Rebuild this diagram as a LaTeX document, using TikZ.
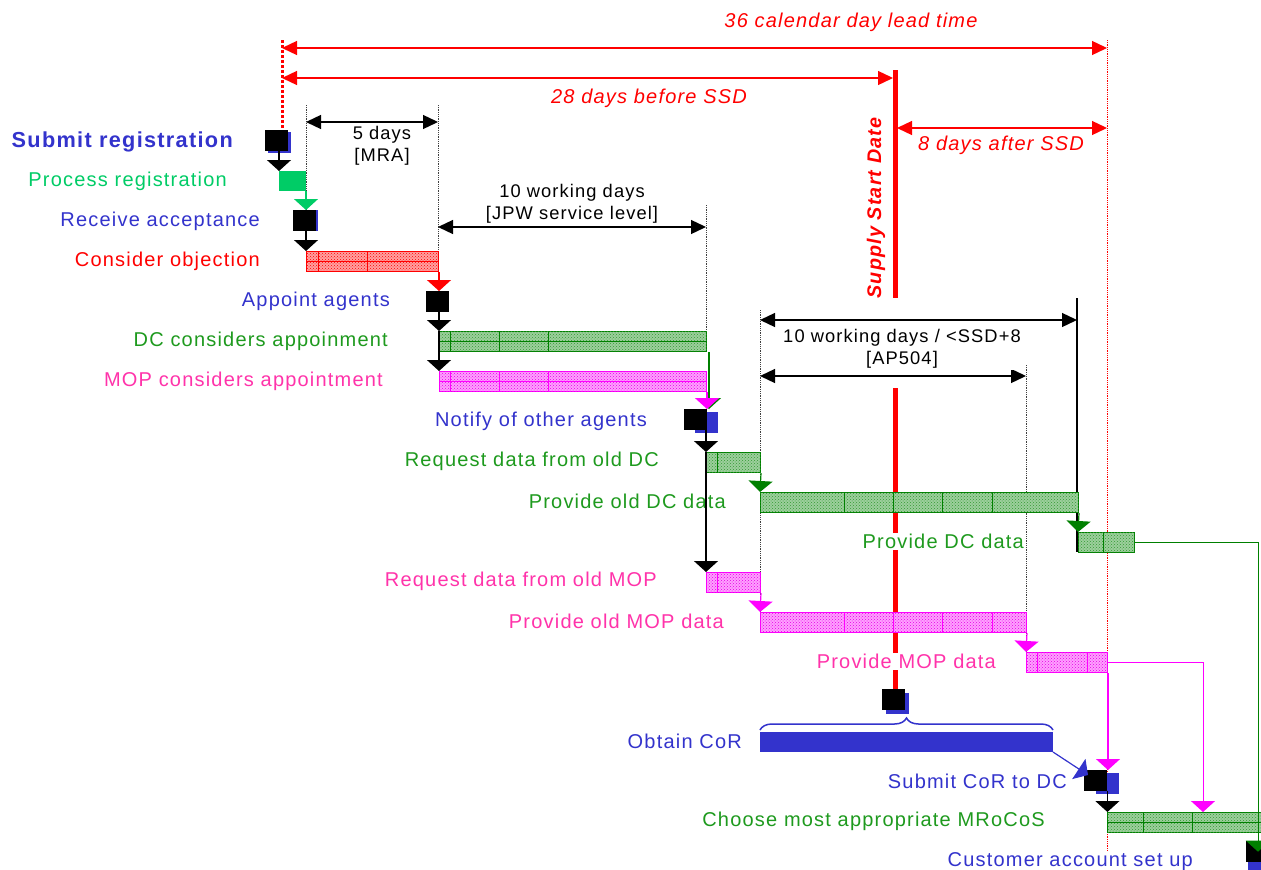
\documentclass[tikz,border=0pt]{standalone}
\usepackage{fontspec}
\setmainfont{Liberation Sans}
\newfontfamily\trackfont{Liberation Sans}[LetterSpace=6.0]
\usetikzlibrary{arrows.meta,patterns,shadows,decorations.pathreplacing,calc}

\definecolor{tblue}{HTML}{3333CC}
\definecolor{tred}{HTML}{FF0000}
\definecolor{tgreen}{HTML}{1E9A1E}
\definecolor{bgreen}{HTML}{008000}
\definecolor{gfill}{HTML}{9CCF9C}
\definecolor{lgreen}{HTML}{00CC66}
\definecolor{tpink}{HTML}{FF33AA}
\definecolor{bmag}{HTML}{FF00FF}
\definecolor{mfill}{HTML}{FFA0FF}
\definecolor{rfill}{HTML}{FFA0A0}

\newcommand\rowfont{\trackfont\fontsize{20}{23}\selectfont}
\newcommand\dimfont{\trackfont\fontsize{18.3}{22}\selectfont}
\newcommand\redfont{\trackfont\itshape\fontsize{20}{23}\selectfont}

% vertical grid lines of a hatched bar: node, colour, x offsets
\newcommand\bargrid[3]{%
  \foreach \o in {#3}
    \draw[#2, line width=0.8pt] ([xshift=\o pt]#1.north west) -- ([xshift=\o pt]#1.south west);}
\newcommand\barmid[2]{\draw[#2, line width=0.8pt] (#1.west) -- (#1.east);}

\begin{document}
\begin{tikzpicture}[x=1pt,y=-1pt,
  lbl/.style={anchor=east, inner sep=1pt, fill=white, font=\rowfont, yshift=-1.5pt},
  bar/.style={anchor=north west, minimum height=20pt, inner sep=0, line width=1pt},
  gbar/.style={bar, draw=bgreen, fill=gfill, postaction={pattern=crosshatch dots, pattern color=bgreen!80}},
  mbar/.style={bar, draw=bmag, fill=mfill, postaction={pattern=crosshatch dots, pattern color=bmag!90!black}},
  rbar/.style={bar, draw=tred, fill=rfill, postaction={pattern=crosshatch dots, pattern color=tred}},
  sq/.style={anchor=north west, fill=black, minimum width=23pt, minimum height=21pt, inner sep=0},
  shad/.style={general shadow={fill=tblue, shadow xshift=#1}},
  flow/.style={-{Triangle[width=24pt,length=11pt]}, line width=1.2pt},
  dim/.style={{Triangle[width=14pt,length=15pt]}-{Triangle[width=14pt,length=15pt]}, line width=1.3pt},
  vdot/.style={densely dotted, line width=0.8pt, black!75},
]
\useasboundingbox (0,0) rectangle (1261,870);
\clip (0,0) rectangle (1261,870);

% ---------- guide lines ----------
\draw[tred, line width=3pt, dash pattern=on 3pt off 2pt] (282,40) -- (282,130);
\draw[tred, densely dotted, line width=0.8pt] (1107,40) -- (1107,870);
\draw[vdot] (306,105) -- (306,251);
\draw[vdot] (438,105) -- (438,290);
\draw[vdot] (706,205) -- (706,331);
\draw[vdot] (760,310) -- (760,612);
\draw[vdot] (1026,365) -- (1026,652);
\draw[black, line width=1.3pt] (1077,298) -- (1077,552);

% ---------- supply start date ----------
\node[sq, shad=4pt, shadow yshift=-4pt] (ssd) at (882,689) {};
\draw[tred, line width=5pt] (895,70) -- (895,298);
\draw[tred, line width=5pt] (895,388) -- (ssd.north -| 895,0);
\node[rotate=90, text=tred, font=\trackfont\bfseries\itshape\fontsize{19.7}{22}\selectfont, inner sep=0] (ssdlbl) at (876,208) {Supply Start Date};

% ---------- lead time dimensions ----------
\coordinate (t36a) at (282,48);  \coordinate (t36b) at (1107,48);
\coordinate (t28a) at (282,78);  \coordinate (t28b) at (893,78);
\coordinate (t8a)  at (897,128); \coordinate (t8b)  at (1107,128);
\draw[dim, tred, line width=1.3pt] (t36a) -- (t36b);
\draw[dim, tred, line width=1.3pt] (t28a) -- (t28b);
\draw[dim, tred, line width=1.3pt] (t8a) -- (t8b);
\node[text=tred, font=\redfont] (l36) at (851,22) {36 calendar day lead time};
\node[text=tred, font=\redfont] (l28) at (649,98) {28 days before SSD};
\node[text=tred, font=\redfont] (l8) at (1001,145) {8 days after SSD};

\coordinate (d5a) at (306,122);  \coordinate (d5b) at (438,122);
\coordinate (dja) at (438,227);  \coordinate (djb) at (706,227);
\coordinate (dsa) at (760,320);  \coordinate (dsb) at (1077,320);
\coordinate (dpa) at (760,376);  \coordinate (dpb) at (1026,376);
\draw[dim] (d5a) -- (d5b);
\draw[dim] (dja) -- (djb);
\draw[dim] (dsa) -- (dsb);
\draw[dim] (dpa) -- (dpb);
\node[font=\dimfont, align=center] (l5) at (382,146) {5 days\\{}[MRA]};
\node[font=\dimfont, align=center] (ljpw) at (572,204) {10 working days\\{}[JPW service level]};
\node[font=\dimfont, align=center, fill=white, inner sep=1pt] (lap) at (902,349) {10 working days / <SSD+8\\{}[AP504]};

% ---------- tasks ----------
\node[sq, shad=3pt, shadow yshift=-2pt] (sub) at (265,130) {};
\node[bar, fill=lgreen, minimum width=27pt, line width=0pt] (proc) at (279,171) {};
\node[sq, shad=2pt, shadow yshift=0pt] (rcv) at (293,210) {};
\node[rbar, minimum width=132pt] (obj) at (306,251) {};
\node[sq] (app) at (426,291) {};
\node[gbar, minimum width=267pt] (dcc) at (439,331) {};
\node[mbar, minimum width=267pt] (mopc) at (439,371) {};
\node[sq, shad=11pt, shadow yshift=-3pt] (ntf) at (684,409) {};
\node[gbar, minimum width=54pt] (rdc) at (706,452) {};
\node[gbar, minimum width=318pt] (podc) at (760,492) {};
\node[gbar, minimum width=56pt] (pdc) at (1078,532) {};
\node[mbar, minimum width=54pt] (rmop) at (706,572) {};
\node[mbar, minimum width=266pt] (pomop) at (760,612) {};
\node[mbar, minimum width=81pt] (pmop) at (1026,652) {};
\node[bar, fill=tblue, minimum width=293pt, line width=0pt] (cor) at (760,732) {};
\node[sq, shad=12pt, shadow yshift=-3pt] (scor) at (1084,770) {};
\node[gbar, minimum width=160pt] (mro) at (1107,812) {};
\node[sq, shad=2pt, shadow yshift=-14pt] (cust) at (1246,841) {};

\bargrid{obj}{tred}{12,61}\barmid{obj}{tred}
\bargrid{dcc}{bgreen}{11,60,109}\barmid{dcc}{bgreen}
\bargrid{mopc}{bmag}{11,60,109}\barmid{mopc}{bmag}
\bargrid{rdc}{bgreen}{11}
\bargrid{podc}{bgreen}{84,133,182,232}
\bargrid{pdc}{bgreen}{25}
\bargrid{rmop}{bmag}{11}
\bargrid{pomop}{bmag}{84,133,182,232}
\bargrid{pmop}{bmag}{11,61}
\bargrid{mro}{bgreen}{36,85}\barmid{mro}{bgreen}

% brace over the CoR bar
\draw[tblue, line width=1.5pt, decorate, decoration={brace, amplitude=12pt}]
  (cor.north west |- 0,730) -- (cor.north east |- 0,730);

% ---------- task labels ----------
\node[lbl, text=tblue, font=\trackfont\bfseries\fontsize{21.7}{24}\selectfont] (lsub) at (234,140) {Submit registration};
\node[lbl, text=lgreen] (lproc) at (228,180) {Process registration};
\node[lbl, text=tblue] (lrcv) at (261,220) {Receive acceptance};
\node[lbl, text=tred] (lobj) at (261,260) {Consider objection};
\node[lbl, text=tblue] (lapp) at (391,300) {Appoint agents};
\node[lbl, text=tgreen] (ldcc) at (389,340) {DC considers appoinment};
\node[lbl, text=tpink] (lmopc) at (384,380) {MOP considers appointment};
\node[lbl, text=tblue] (lntf) at (648,420) {Notify of other agents};
\node[lbl, text=tgreen] (lrdc) at (660,460) {Request data from old DC};
\node[lbl, text=tgreen] (lpodc) at (727,500) {Provide old DC data};
\node[lbl, text=tgreen] (lpdc) at (1025,540) {Provide DC data};
\node[lbl, text=tpink] (lrmop) at (658,580) {Request data from old MOP};
\node[lbl, text=tpink] (lpomop) at (725,620) {Provide old MOP data};
\node[lbl, text=tpink] (lpmop) at (997,660) {Provide MOP data};
\node[lbl, text=tblue] (lcor) at (743,740) {Obtain CoR};
\node[lbl, text=tblue] (lscor) at (1068,780) {Submit CoR to DC};
\node[lbl, text=tgreen] (lmro) at (1046,820) {Choose most appropriate MRoCoS};
\node[lbl, text=tblue] (lcust) at (1194,860) {Customer account set up};

% ---------- dependencies ----------
\draw[flow] (sub.south -| proc.north west) -- (proc.north west);
\draw[flow, lgreen] (proc.south east) -- (proc.south east |- rcv.north);
\draw[flow] (rcv.south -| obj.north west) -- (obj.north west);
\draw[flow, tred] (obj.south east) -- (obj.south east |- app.north);
\draw[flow] (app.south -| dcc.north west) -- (dcc.north west);
\draw[flow] (dcc.north west) -- (mopc.north west);
\draw[flow, bgreen] ([xshift=2pt]dcc.south east) -- ([xshift=2pt]dcc.south east |- ntf.north);
\draw[flow, bmag] (mopc.south east) -- (mopc.south east |- ntf.north);
\draw[flow] (ntf.south -| rdc.north west) -- (rdc.north west);
\draw[flow] (rdc.north west) -- (rmop.north west);
\draw[flow, bgreen] (rdc.south east) -- (podc.north west);
\draw[flow, bgreen] (podc.south east) -- (pdc.north west);
\draw[flow, bgreen, line width=1pt] (pdc.east) -- (pdc.east -| 1258,0) -- (1258,0 |- cust.center);
\draw[flow, bmag] (rmop.south east) -- (pomop.north west);
\draw[flow, bmag] (pomop.south east) -- (pmop.north west);
\draw[flow, bmag, line width=1pt] (pmop.east) -- (pmop.east -| 1203,0) -- (1203,0 |- mro.north);
\draw[flow, bmag] (pmop.south east) -- (pmop.south east |- scor.north);
\draw[flow, tblue, line width=1.2pt] (cor.south east) -- ([xshift=4pt,yshift=-5pt]scor.north west);
\draw[flow] (scor.south east) -- (scor.south east |- mro.north);
\end{tikzpicture}
\end{document}
